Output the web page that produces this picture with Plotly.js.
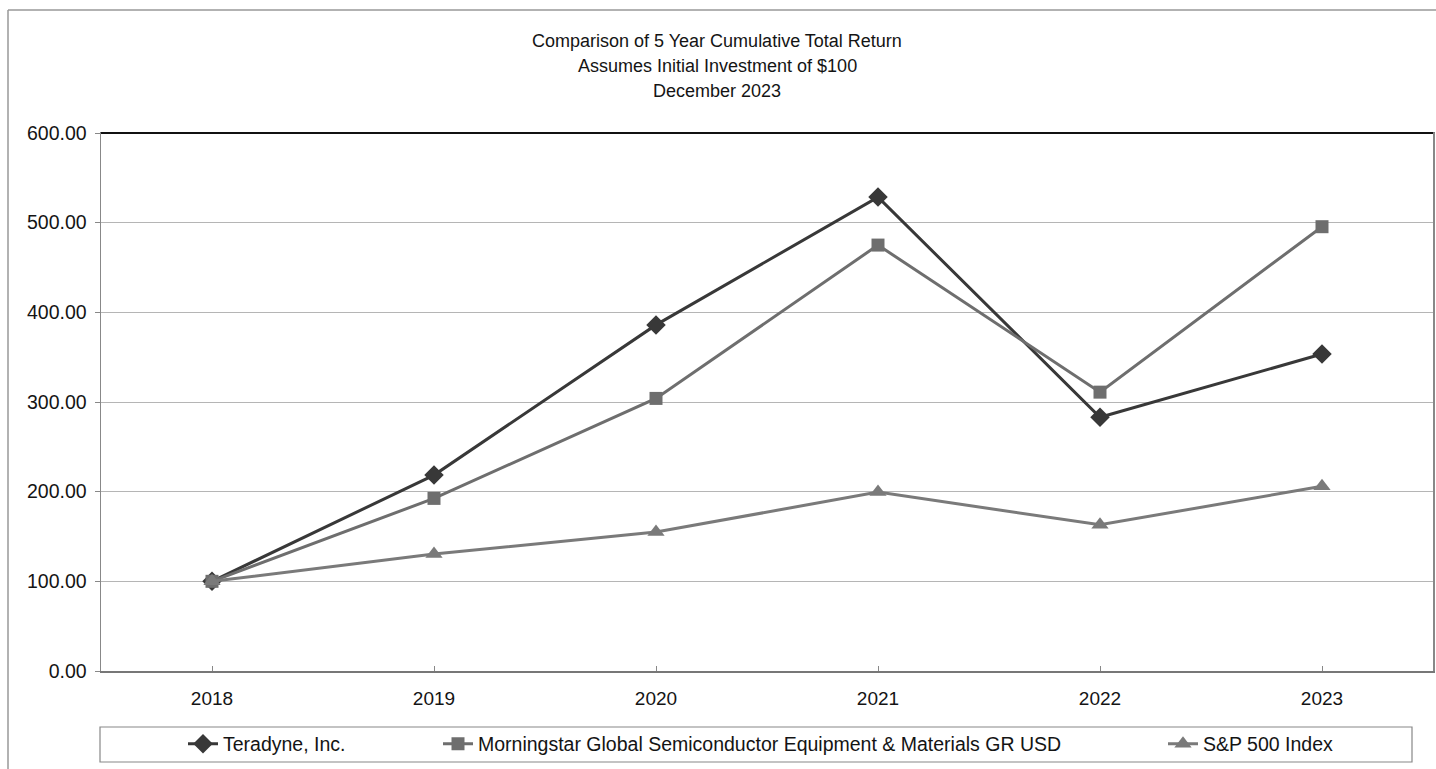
<!DOCTYPE html>
<html>
<head>
<meta charset="utf-8">
<script src="https://cdn.plot.ly/plotly-3.0.1.min.js"></script>
<style>
html,body{margin:0;padding:0;background:#fff;}
#chart{width:1436px;height:769px;}
</style>
</head>
<body>
<div id="chart"></div>
<script>
const years = ['2018','2019','2020','2021','2022','2023'];
const teradyne = [100.00, 218.5, 386.0, 528.5, 283.0, 353.5];
const morningstar = [100.00, 192.5, 304.0, 475.0, 311.0, 495.5];
const sp500 = [100.00, 130.5, 155.0, 199.5, 163.0, 206.0];
const seriesNames = ['Teradyne, Inc.', 'Morningstar Global Semiconductor Equipment & Materials GR USD', 'S&P 500 Index'];
const titleLines = ['Comparison of 5 Year Cumulative Total Return', 'Assumes Initial Investment of $100', 'December 2023'];
const yTicks = [0, 100, 200, 300, 400, 500, 600];

const W = 1436, H = 769;
const L = 101, R = 1433, T = 133, B = 671;
const px = x => (x - L) / (R - L);
const py = y => (B - y) / (B - T);

const fam = 'Liberation Sans, Arial, sans-serif';
const txt = '#141414';
const tickFontY = {family: fam, size: 19.5, color: txt};
const tickFontX = {family: fam, size: 19, color: txt};
const legFont = {family: fam, size: 19.5, color: txt};

const traces = [
  {x: years, y: teradyne, name: seriesNames[0], type: 'scatter', mode: 'lines+markers',
   line: {color: '#383838', width: 3}, marker: {symbol: 'diamond', size: 15, color: '#383838'}, legend: 'legend'},
  {x: years, y: morningstar, name: seriesNames[1], type: 'scatter', mode: 'lines+markers',
   line: {color: '#6e6e6e', width: 3}, marker: {symbol: 'square', size: 13, color: '#6e6e6e'}, legend: 'legend2'},
  {x: years, y: sp500, name: seriesNames[2], type: 'scatter', mode: 'lines+markers',
   line: {color: '#7a7a7a', width: 3}, marker: {symbol: 'triangle-up', size: 15, color: '#7a7a7a'}, legend: 'legend3'}
];

const legBase = {orientation: 'h', yanchor: 'middle', y: py(744), xanchor: 'left',
  font: legFont, bgcolor: 'rgba(0,0,0,0)', borderwidth: 0, itemwidth: 30};

const layout = {
  width: W, height: H,
  margin: {l: L, r: W - R, t: T, b: H - B},
  paper_bgcolor: '#fff', plot_bgcolor: '#fff',
  font: {family: fam, size: 16, color: txt},
  showlegend: true,
  xaxis: {type: 'category', range: [-0.5, 5.5], showgrid: false, zeroline: false,
    showline: true, linecolor: '#777', linewidth: 1.5, mirror: true,
    ticks: 'inside', ticklen: 5, tickcolor: '#888', ticklabelstandoff: 10,
    tickfont: tickFontX, fixedrange: true},
  yaxis: {range: [0, 600], tickvals: yTicks, tickformat: '.2f',
    showgrid: true, gridcolor: '#b5b5b5', gridwidth: 1, zeroline: false,
    showline: true, linecolor: '#888', linewidth: 1.5, mirror: true,
    ticks: 'outside', ticklen: 5, tickcolor: '#888', ticklabelstandoff: 4,
    tickfont: tickFontY, fixedrange: true},
  legend: Object.assign({}, legBase, {x: px(183)}),
  legend2: Object.assign({}, legBase, {x: px(438)}),
  legend3: Object.assign({}, legBase, {x: px(1163)}),
  annotations: titleLines.map((t, i) => ({
    text: t, xref: 'paper', yref: 'paper', x: px(717), y: py(41 + 25 * i),
    xanchor: 'center', yanchor: 'middle', showarrow: false,
    font: {family: fam, size: 18, color: txt}
  })),
  shapes: [
    {type: 'line', xref: 'paper', yref: 'paper', x0: 0, x1: 1, y0: 1, y1: 1, line: {color: '#111', width: 2}},
    {type: 'rect', xref: 'paper', yref: 'paper', x0: px(100), x1: px(1412), y0: py(727), y1: py(762),
     line: {color: '#888', width: 1.2}},
    {type: 'line', xref: 'paper', yref: 'paper', x0: px(8), x1: px(1440), y0: py(10), y1: py(10), line: {color: '#999', width: 1.5}},
    {type: 'line', xref: 'paper', yref: 'paper', x0: px(8), x1: px(8), y0: py(10), y1: py(775), line: {color: '#999', width: 1.5}}
  ]
};

Plotly.newPlot('chart', traces, layout, {displayModeBar: false, staticPlot: true});
</script>
</body>
</html>
